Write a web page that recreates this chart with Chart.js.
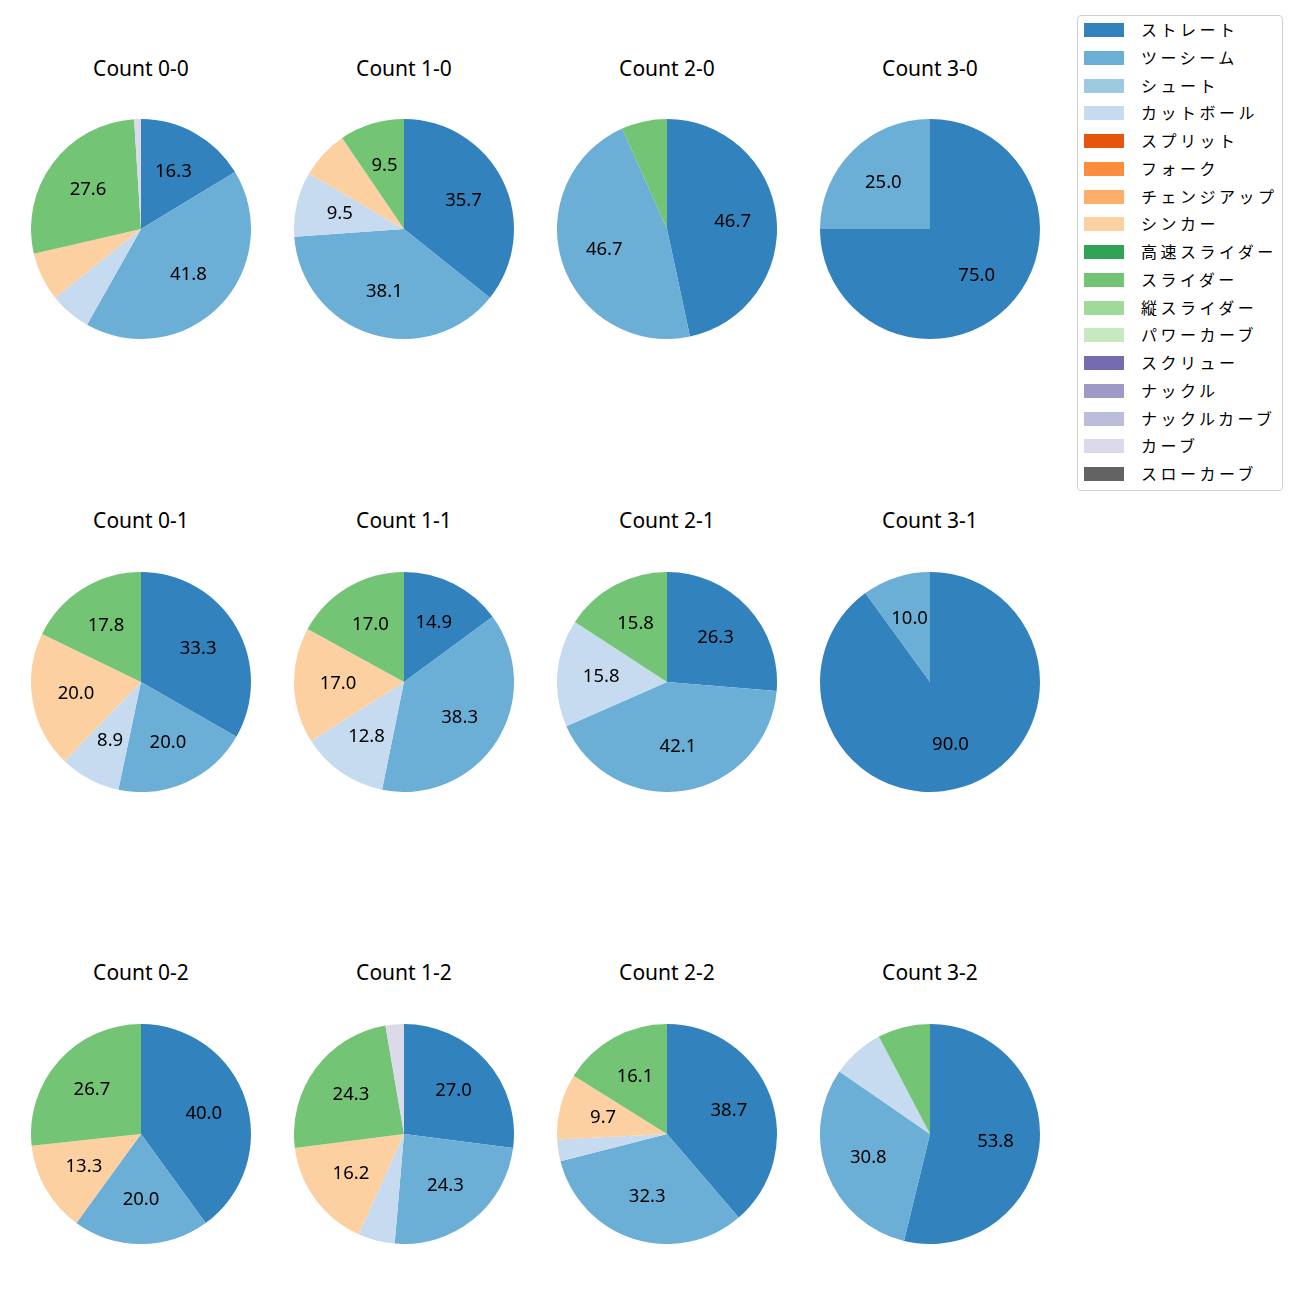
<!DOCTYPE html>
<html>
<head>
<meta charset="utf-8">
<script src="https://cdn.jsdelivr.net/npm/chart.js@4"></script>
<style>
  body { margin: 0; background: #fff; width: 1300px; height: 1300px; position: relative; overflow: hidden;
         font-family: "Noto Sans", "Noto Sans CJK JP", sans-serif; }
  .pie { position: absolute; width: 220px; height: 220px; }
  .title { position: absolute; width: 240px; height: 28px; line-height: 28px; text-align: center;
           font-size: 21px; color: #000; }
  #legend { position: absolute; left: 1077px; top: 15px; width: 204px; height: 474px;
            border: 1px solid #d0d0d0; border-radius: 4px; background: #fff;
            font-family: "Noto Sans CJK JP", sans-serif; }
  .li { position: absolute; left: 0; height: 20px; width: 204px; }
  .sw { position: absolute; left: 6px; top: 3px; width: 40px; height: 14px; }
  .lt { position: absolute; left: 63px; top: -1px; height: 20px; line-height: 20px; font-size: 16px;
        letter-spacing: 3.5px; white-space: nowrap; color: #000; }
</style>
</head>
<body>
<div id="legend"></div>
<script>
// Pitch types (legend order) and colours
const pitchTypes = ["ストレート","ツーシーム","シュート","カットボール","スプリット","フォーク","チェンジアップ","シンカー","高速スライダー","スライダー","縦スライダー","パワーカーブ","スクリュー","ナックル","ナックルカーブ","カーブ","スローカーブ"];
const pitchColors = ["#3182bd","#6baed6","#9ecae1","#c6dbef","#e6550d","#fd8d3c","#fdae6b","#fdd0a2","#31a354","#74c476","#a1d99b","#c7e9c0","#756bb1","#9e9ac8","#bcbddc","#dadaeb","#636363"];

// Counts in grid order (row by row)
const countLabels = ["Count 0-0","Count 1-0","Count 2-0","Count 3-0",
                     "Count 0-1","Count 1-1","Count 2-1","Count 3-1",
                     "Count 0-2","Count 1-2","Count 2-2","Count 3-2"];

// Percentages per count, in pitchTypes order
//            ST    TS   SHU  CUT  SPL FRK CHG SINK  HSL  SL   VSL PWC SCR KN KNC CRV SLC
const c00 = [16.3, 41.8, 0, 6.1, 0, 0, 0, 7.1, 0, 27.6, 0, 0, 0, 0, 0, 1.0, 0];
const c10 = [35.7, 38.1, 0, 9.5, 0, 0, 0, 7.1, 0, 9.5, 0, 0, 0, 0, 0, 0, 0];
const c20 = [46.7, 46.7, 0, 0, 0, 0, 0, 0, 0, 6.7, 0, 0, 0, 0, 0, 0, 0];
const c30 = [75.0, 25.0, 0, 0, 0, 0, 0, 0, 0, 0, 0, 0, 0, 0, 0, 0, 0];
const c01 = [33.3, 20.0, 0, 8.9, 0, 0, 0, 20.0, 0, 17.8, 0, 0, 0, 0, 0, 0, 0];
const c11 = [14.9, 38.3, 0, 12.8, 0, 0, 0, 17.0, 0, 17.0, 0, 0, 0, 0, 0, 0, 0];
const c21 = [26.3, 42.1, 0, 15.8, 0, 0, 0, 0, 0, 15.8, 0, 0, 0, 0, 0, 0, 0];
const c31 = [90.0, 10.0, 0, 0, 0, 0, 0, 0, 0, 0, 0, 0, 0, 0, 0, 0, 0];
const c02 = [40.0, 20.0, 0, 0, 0, 0, 0, 13.3, 0, 26.7, 0, 0, 0, 0, 0, 0, 0];
const c12 = [27.0, 24.3, 0, 5.4, 0, 0, 0, 16.2, 0, 24.3, 0, 0, 0, 0, 0, 2.7, 0];
const c22 = [38.7, 32.3, 0, 3.2, 0, 0, 0, 9.7, 0, 16.1, 0, 0, 0, 0, 0, 0, 0];
const c32 = [53.8, 30.8, 0, 7.7, 0, 0, 0, 0, 0, 7.7, 0, 0, 0, 0, 0, 0, 0];
const countValues = [c00, c10, c20, c30, c01, c11, c21, c31, c02, c12, c22, c32];

const labelThreshold = 8;

// Layout
const colCenters = [141, 404, 667, 930];
const rowCenters = [229, 682, 1134];
const titleY = [69, 521, 973];
const R = 110;

const pctLabels = {
  id: 'pctLabels',
  afterDatasetsDraw(chart) {
    const ctx = chart.ctx;
    const meta = chart.getDatasetMeta(0);
    const data = chart.data.datasets[0].data;
    ctx.save();
    ctx.font = '18.5px "Noto Sans", "Noto Sans CJK JP", sans-serif';
    ctx.fillStyle = '#000';
    ctx.textAlign = 'center';
    ctx.textBaseline = 'middle';
    meta.data.forEach((arc, i) => {
      const v = data[i];
      if (!v || v < labelThreshold) return;
      const p = arc.getProps(['x','y','startAngle','endAngle','outerRadius'], true);
      const mid = (p.startAngle + p.endAngle) / 2;
      const r = p.outerRadius * 0.6;
      ctx.fillText(v.toFixed(1), p.x + Math.cos(mid) * r, p.y + Math.sin(mid) * r);
    });
    ctx.restore();
  }
};

countLabels.forEach((label, k) => {
  const col = k % 4, row = Math.floor(k / 4);
  const cx = colCenters[col], cy = rowCenters[row];
  const t = document.createElement('div');
  t.className = 'title';
  t.textContent = label;
  t.style.left = (cx - 120) + 'px';
  t.style.top = (titleY[row] - 15) + 'px';
  document.body.appendChild(t);

  const wrap = document.createElement('div');
  wrap.className = 'pie';
  wrap.style.left = (cx - R) + 'px';
  wrap.style.top = (cy - R) + 'px';
  const cv = document.createElement('canvas');
  cv.width = 2 * R; cv.height = 2 * R;
  wrap.appendChild(cv);
  document.body.appendChild(wrap);

  new Chart(cv, {
    type: 'pie',
    data: {
      labels: pitchTypes,
      datasets: [{ data: countValues[k], backgroundColor: pitchColors, borderWidth: 0 }]
    },
    options: {
      responsive: false,
      animation: false,
      layout: { padding: 0 },
      plugins: { legend: { display: false }, tooltip: { enabled: false } }
    },
    plugins: [pctLabels]
  });
});

// Legend
const lg = document.getElementById('legend');
pitchTypes.forEach((name, i) => {
  const li = document.createElement('div');
  li.className = 'li';
  li.style.top = (4 + i * 27.75) + 'px';
  const sw = document.createElement('div');
  sw.className = 'sw';
  sw.style.background = pitchColors[i];
  const lt = document.createElement('div');
  lt.className = 'lt';
  lt.textContent = name;
  li.appendChild(sw); li.appendChild(lt);
  lg.appendChild(li);
});
</script>
</body>
</html>
